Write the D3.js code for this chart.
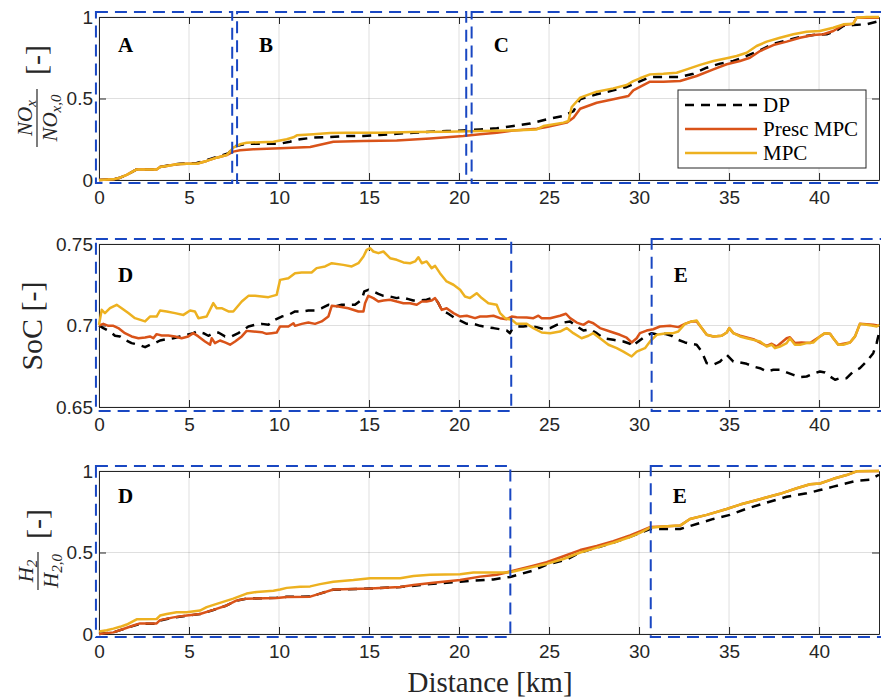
<!DOCTYPE html>
<html>
<head>
<meta charset="utf-8">
<script src="https://cdn.jsdelivr.net/npm/d3@7"></script>
<style>
  body { margin: 0; background: #fff; }
  svg { display: block; }
  .tick text { font-family: "Liberation Sans", Arial, sans-serif; font-size: 19px; fill: #262626; }
</style>
</head>
<body>
<script>
'use strict';

// distance [km] vs normalised NOx
const noxDP = [[0,0],[0.8,0.004],[1.17,0.014],[1.54,0.031],[2.09,0.065],[3.2,0.065],[3.39,0.08],[3.76,0.088],[4.5,0.1],[5.43,0.105],[6.0,0.122],[6.5,0.14],[7.2,0.165],[7.5,0.205],[8.2,0.223],[10.06,0.223],[10.61,0.235],[11.17,0.25],[11.91,0.26],[12.84,0.264],[13.76,0.27],[14.69,0.27],[15.61,0.276],[16.54,0.284],[17.47,0.29],[18.39,0.296],[19.32,0.3],[20.24,0.304],[21.17,0.31],[22.1,0.317],[23.02,0.331],[23.95,0.346],[24.87,0.372],[25.8,0.393],[26.36,0.423],[26.72,0.495],[27.65,0.526],[28.57,0.55],[29.31,0.571],[29.87,0.597],[30.61,0.632],[32.28,0.632],[33.02,0.652],[33.76,0.689],[34.5,0.714],[35.24,0.73],[35.98,0.761],[36.72,0.796],[37.46,0.836],[38.2,0.857],[38.94,0.877],[39.68,0.89],[40.42,0.894],[40.98,0.918],[41.35,0.945],[41.9,0.951],[42.65,0.955],[43.33,0.975]];
const noxPresc = [[0,0],[0.8,0.004],[1.17,0.014],[1.54,0.031],[2.09,0.065],[3.2,0.065],[3.39,0.08],[3.76,0.086],[4.31,0.096],[4.87,0.1],[5.43,0.1],[5.98,0.117],[6.54,0.137],[7.09,0.153],[7.46,0.174],[7.83,0.182],[8.57,0.188],[10.06,0.195],[11.73,0.203],[13.02,0.235],[14.69,0.239],[16.54,0.243],[18.39,0.255],[20.24,0.27],[21.17,0.28],[22.1,0.29],[23.02,0.304],[24.32,0.315],[24.87,0.325],[25.98,0.352],[26.36,0.382],[26.73,0.437],[27.65,0.474],[28.57,0.495],[29.41,0.515],[29.68,0.55],[30.05,0.571],[30.61,0.603],[31.35,0.603],[32.28,0.607],[33.2,0.638],[34.13,0.679],[34.87,0.71],[35.61,0.73],[36.16,0.75],[36.72,0.791],[37.46,0.828],[38.2,0.849],[38.94,0.873],[39.68,0.89],[40.24,0.894],[40.79,0.914],[41.35,0.951],[41.9,0.959],[42.09,0.996],[43.33,0.996]];
const noxMPC = [[0,0],[0.8,0.004],[1.17,0.014],[1.54,0.031],[2.09,0.065],[3.2,0.065],[3.39,0.08],[3.76,0.086],[4.31,0.096],[4.87,0.1],[5.43,0.1],[5.98,0.117],[6.54,0.137],[7.09,0.153],[7.46,0.198],[7.83,0.219],[8.2,0.229],[9.69,0.235],[10.43,0.25],[10.8,0.262],[10.99,0.274],[11.91,0.28],[12.84,0.288],[13.76,0.29],[15.61,0.29],[17.47,0.294],[19.32,0.296],[21.17,0.3],[23.02,0.304],[24.32,0.31],[24.69,0.331],[25.8,0.352],[26.08,0.362],[26.26,0.448],[26.73,0.505],[27.65,0.542],[28.57,0.562],[29.31,0.583],[29.68,0.607],[30.05,0.624],[30.61,0.648],[31.35,0.652],[32.09,0.658],[32.65,0.679],[33.39,0.706],[34.13,0.73],[34.87,0.747],[35.42,0.761],[35.98,0.781],[36.53,0.822],[37.09,0.849],[37.83,0.873],[38.57,0.894],[39.31,0.91],[40.05,0.914],[40.79,0.934],[41.35,0.955],[41.9,0.959],[42.09,0.996],[42.65,1.0],[43.33,1.0]];

// distance [km] vs state of charge
const socDP = [[0,0.7],[0.24,0.6984],[0.61,0.6963],[0.89,0.6937],[1.17,0.6933],[1.44,0.6912],[1.81,0.6892],[2.19,0.6882],[2.56,0.6867],[2.83,0.6882],[3.11,0.6892],[3.39,0.6908],[3.76,0.6916],[4.13,0.6922],[4.5,0.6933],[4.87,0.6943],[5.24,0.6953],[5.43,0.6963],[5.8,0.6953],[6.07,0.6937],[6.35,0.6953],[6.63,0.6957],[7.0,0.6933],[7.37,0.6933],[7.74,0.6953],[8.02,0.6973],[8.3,0.6994],[8.67,0.7004],[9.04,0.701],[9.41,0.7004],[9.78,0.7035],[10.15,0.7055],[10.52,0.7065],[10.89,0.7086],[11.26,0.7086],[11.63,0.7092],[12.0,0.7092],[12.37,0.7106],[12.74,0.7127],[13.11,0.7117],[13.48,0.7127],[14.22,0.7127],[14.59,0.7158],[14.74,0.7209],[14.96,0.7219],[15.24,0.7209],[15.52,0.7194],[15.8,0.7182],[16.17,0.7178],[16.54,0.7168],[16.81,0.7174],[17.19,0.7162],[17.46,0.7153],[17.83,0.7153],[18.2,0.7158],[18.48,0.7168],[18.67,0.7168],[18.85,0.7137],[19.04,0.7096],[19.41,0.7072],[19.78,0.7045],[20.15,0.7025],[20.43,0.701],[20.8,0.701],[21.17,0.6998],[21.54,0.699],[21.91,0.6984],[22.28,0.6977],[22.65,0.6969],[22.83,0.6953],[22.93,0.6973],[23.2,0.6994],[23.57,0.6994],[23.94,0.6998],[24.31,0.699],[24.69,0.6977],[25.06,0.6984],[25.43,0.7004],[25.8,0.7018],[26.17,0.7025],[26.54,0.6994],[26.91,0.6969],[27.28,0.6977],[27.65,0.6953],[28.02,0.6922],[28.57,0.6912],[29.13,0.6902],[29.5,0.6888],[29.59,0.6871],[29.96,0.6902],[30.33,0.6933],[30.7,0.6953],[31.07,0.6943],[31.44,0.6949],[31.81,0.6937],[32.18,0.6912],[32.55,0.6896],[32.83,0.6888],[33.2,0.6882],[33.48,0.684],[33.76,0.6769],[34.13,0.6759],[34.5,0.6779],[34.87,0.682],[35.24,0.6779],[35.61,0.6773],[35.98,0.6765],[36.35,0.6748],[36.72,0.6738],[37.09,0.6718],[37.46,0.6728],[37.83,0.6728],[38.2,0.6712],[38.57,0.6697],[38.94,0.6683],[39.31,0.6687],[39.68,0.6704],[40.05,0.6718],[40.33,0.6712],[40.61,0.6687],[40.89,0.6667],[41.16,0.6677],[41.53,0.6677],[41.9,0.6718],[42.27,0.6738],[42.64,0.6779],[43.01,0.683],[43.2,0.6892],[43.33,0.6953]];
const socPresc = [[0,0.7],[0.24,0.701],[0.52,0.6998],[0.8,0.6998],[1.07,0.6984],[1.44,0.6953],[1.81,0.6933],[2.19,0.6922],[2.56,0.6926],[2.83,0.6933],[3.02,0.6922],[3.2,0.6947],[3.48,0.6939],[3.85,0.6939],[4.22,0.6933],[4.59,0.6922],[4.96,0.6933],[5.24,0.6953],[5.52,0.6933],[5.89,0.6902],[6.17,0.6882],[6.26,0.6922],[6.44,0.6892],[6.72,0.6908],[7.0,0.6896],[7.28,0.6882],[7.56,0.6902],[7.93,0.6933],[8.2,0.6967],[8.57,0.6963],[9.04,0.6959],[9.31,0.6949],[9.59,0.6953],[9.87,0.6957],[10.06,0.6994],[10.52,0.6994],[10.8,0.7014],[10.89,0.6998],[11.26,0.701],[11.63,0.7018],[12.0,0.701],[12.37,0.7025],[12.74,0.7055],[12.93,0.7121],[13.3,0.7117],[13.85,0.7106],[14.41,0.7086],[14.69,0.7086],[14.78,0.7137],[14.96,0.7182],[15.24,0.7168],[15.52,0.7147],[15.8,0.7153],[16.17,0.7158],[16.54,0.7147],[16.91,0.7137],[17.28,0.7137],[17.65,0.7127],[17.93,0.7147],[18.2,0.7147],[18.48,0.7153],[18.67,0.7168],[18.85,0.7137],[19.04,0.7096],[19.31,0.7106],[19.69,0.7076],[20.06,0.7055],[20.43,0.706],[20.89,0.7045],[21.17,0.7055],[21.54,0.7055],[21.91,0.706],[22.28,0.7045],[22.65,0.7039],[22.93,0.7055],[23.2,0.7051],[23.76,0.7049],[24.13,0.7045],[24.41,0.706],[24.59,0.7045],[25.06,0.7045],[25.61,0.706],[25.94,0.7072],[26.17,0.7045],[26.54,0.7018],[26.91,0.7004],[27.19,0.7025],[27.46,0.7014],[27.83,0.6984],[28.39,0.6963],[28.94,0.6943],[29.31,0.6925],[29.59,0.6896],[29.87,0.6922],[30.05,0.6953],[30.42,0.6969],[30.79,0.6977],[31.16,0.6994],[31.72,0.6998],[32.18,0.699],[32.55,0.701],[32.92,0.7025],[33.2,0.7025],[33.48,0.6984],[33.76,0.6943],[34.13,0.6933],[34.59,0.6937],[34.87,0.6957],[35.01,0.6984],[35.24,0.6953],[35.61,0.6937],[36.35,0.6916],[37.09,0.6875],[37.37,0.6888],[37.65,0.6871],[38.2,0.6922],[38.38,0.6928],[38.66,0.6892],[39.03,0.6896],[39.5,0.6892],[40.05,0.6933],[40.33,0.6953],[40.61,0.6949],[40.79,0.6922],[41.07,0.6882],[41.35,0.6888],[41.72,0.6896],[42.0,0.6933],[42.27,0.701],[43.01,0.7004],[43.33,0.6998]];
const socMPC = [[0,0.7004],[0.15,0.7096],[0.33,0.7076],[0.61,0.7106],[0.98,0.7127],[1.26,0.7106],[1.63,0.7076],[2.0,0.7045],[2.56,0.7025],[2.83,0.7055],[3.2,0.7055],[3.39,0.7092],[3.76,0.7086],[4.22,0.7076],[4.69,0.7065],[5.06,0.7092],[5.33,0.7086],[5.52,0.7045],[5.98,0.7055],[6.35,0.7137],[6.54,0.7106],[6.81,0.7106],[7.19,0.7086],[7.46,0.7086],[7.93,0.7147],[8.3,0.7182],[8.67,0.7182],[9.41,0.7174],[9.87,0.7188],[10.06,0.728],[10.52,0.729],[10.89,0.7321],[11.26,0.7325],[11.81,0.7325],[12.09,0.7352],[12.56,0.7362],[12.93,0.7382],[13.57,0.7372],[14.04,0.7362],[14.41,0.7382],[14.69,0.7423],[14.87,0.7464],[15.06,0.7474],[15.24,0.7454],[15.52,0.7444],[15.8,0.7454],[16.17,0.7413],[16.54,0.7403],[16.91,0.7387],[17.28,0.7382],[17.56,0.7393],[17.74,0.7419],[17.93,0.7382],[18.2,0.7393],[18.48,0.7352],[18.67,0.7366],[18.94,0.7321],[19.31,0.727],[19.69,0.725],[20.06,0.7219],[20.33,0.7178],[20.61,0.7168],[20.98,0.7198],[21.26,0.7168],[21.63,0.7137],[22.09,0.7127],[22.28,0.7076],[22.56,0.7045],[22.93,0.7035],[23.2,0.701],[23.76,0.701],[24.13,0.6984],[24.59,0.6957],[25.06,0.6953],[25.61,0.6963],[25.98,0.6984],[26.35,0.6953],[26.81,0.6922],[27.19,0.6937],[27.46,0.6953],[27.83,0.6922],[28.3,0.6882],[28.76,0.6861],[29.13,0.684],[29.59,0.681],[29.87,0.684],[30.33,0.6861],[30.61,0.6902],[30.98,0.6943],[31.53,0.6953],[31.9,0.6953],[32.18,0.6963],[32.55,0.701],[32.92,0.7025],[33.2,0.7031],[33.48,0.6984],[33.76,0.6943],[34.13,0.6933],[34.59,0.6937],[34.87,0.6957],[35.01,0.6984],[35.24,0.6953],[35.61,0.6933],[35.98,0.6922],[36.35,0.6912],[36.72,0.6902],[37.09,0.6871],[37.37,0.6882],[37.55,0.6861],[37.83,0.6871],[38.2,0.6892],[38.38,0.6922],[38.66,0.6882],[38.94,0.6882],[39.31,0.6892],[39.68,0.6896],[40.05,0.6933],[40.33,0.6953],[40.61,0.6949],[40.79,0.6922],[41.07,0.6882],[41.35,0.6882],[41.72,0.6896],[42.0,0.6933],[42.18,0.6984],[42.27,0.701],[42.64,0.7004],[43.01,0.6998],[43.2,0.6994],[43.33,0.7004]];

// distance [km] vs normalised H2
const h2DP = [[0,0],[0.8,0.01],[1.35,0.03],[1.91,0.05],[2.28,0.063],[3.2,0.063],[3.39,0.083],[4.13,0.1],[4.87,0.112],[5.61,0.122],[6.35,0.147],[7.09,0.175],[7.65,0.205],[8.2,0.217],[9.87,0.222],[10.43,0.228],[11.73,0.23],[12.28,0.248],[13.02,0.272],[15.06,0.279],[16.73,0.288],[18.39,0.306],[20.06,0.321],[21.91,0.335],[22.84,0.35],[24.13,0.39],[24.87,0.425],[25.98,0.456],[26.73,0.5],[28.57,0.56],[30.05,0.619],[30.61,0.644],[32.28,0.644],[33.2,0.675],[34.13,0.706],[35.05,0.731],[35.98,0.769],[37.09,0.806],[38.2,0.842],[39.31,0.863],[40.05,0.883],[40.79,0.904],[41.53,0.925],[42.09,0.94],[42.83,0.946],[43.33,0.977]];
const h2Presc = [[0,0],[0.8,0.01],[1.35,0.031],[1.91,0.052],[2.28,0.065],[3.2,0.065],[3.39,0.085],[4.13,0.102],[4.87,0.113],[5.61,0.123],[6.35,0.148],[7.09,0.175],[7.65,0.206],[8.2,0.217],[9.87,0.221],[10.43,0.227],[11.73,0.229],[12.28,0.248],[13.02,0.273],[15.06,0.279],[16.73,0.289],[17.47,0.3],[18.58,0.315],[20.06,0.331],[21.17,0.352],[22.1,0.363],[22.84,0.383],[24.13,0.419],[24.87,0.44],[25.8,0.477],[26.73,0.515],[27.65,0.54],[28.57,0.57],[29.5,0.605],[30.05,0.63],[30.61,0.656],[31.35,0.66],[32.28,0.665],[32.83,0.706],[33.76,0.731],[34.87,0.767],[35.61,0.794],[36.72,0.827],[37.83,0.86],[38.76,0.894],[39.5,0.919],[40.05,0.923],[40.79,0.952],[41.53,0.975],[42.09,0.998],[43.33,1.0]];
const h2MPC = [[0,0.015],[0.43,0.023],[0.8,0.033],[1.17,0.044],[1.54,0.058],[2.09,0.09],[3.2,0.092],[3.39,0.113],[3.76,0.123],[4.31,0.133],[4.87,0.133],[5.61,0.144],[5.98,0.165],[6.54,0.185],[7.46,0.217],[8.2,0.248],[8.76,0.258],[9.69,0.265],[10.06,0.273],[10.43,0.283],[11.17,0.29],[11.73,0.292],[12.28,0.306],[13.02,0.321],[14.13,0.331],[15.06,0.342],[16.73,0.342],[17.47,0.356],[18.39,0.363],[20.06,0.367],[20.8,0.377],[22.65,0.377],[23.02,0.383],[24.13,0.412],[24.87,0.43],[25.8,0.46],[26.73,0.5],[27.65,0.53],[28.57,0.56],[29.5,0.595],[30.05,0.62],[30.61,0.652],[31.35,0.66],[32.28,0.665],[32.83,0.706],[33.76,0.731],[34.87,0.767],[35.61,0.794],[36.72,0.827],[37.83,0.86],[38.76,0.894],[39.5,0.919],[40.05,0.923],[40.79,0.952],[41.53,0.975],[42.09,0.998],[43.33,1.0]];

const xTicks = [0, 5, 10, 15, 20, 25, 30, 35, 40];
const unitTicks = [0, 0.5, 1];
const socTicks = [0.65, 0.7, 0.75];
const seriesNames = ['DP', 'Presc MPC', 'MPC'];

// highlighted regions: [label, xFrom, xTo] in km
const noxRegions = [['A', -0.17, 7.4], ['B', 7.67, 20.4], ['C', 20.7, 43.6]];
const socRegions = [['D', -0.17, 22.9], ['E', 30.7, 43.6]];
const h2Regions = [['D', -0.17, 22.85], ['E', 30.65, 43.6]];

(function() {
  const W = 881, H = 698;
  const left = 99, right = 879;
  const colors = { 'DP': '#000000', 'Presc MPC': '#D95319', 'MPC': '#EDB120' };
  const axisCol = '#262626';
  const boxBlue = '#1947c2';

  const svg = d3.select('body').append('svg')
    .attr('width', W).attr('height', H);

  const x = d3.scaleLinear().domain([0, 43.33]).range([left, right]);

  function drawPanel(p) {
    const y = p.y;
    const [yb, yt] = y.range();
    const g = svg.append('g');

    // grid
    g.selectAll('.gx').data(xTicks).enter().append('line')
      .attr('x1', d => x(d)).attr('x2', d => x(d))
      .attr('y1', yb).attr('y2', yt)
      .attr('stroke', axisCol).attr('stroke-opacity', 0.15);
    g.selectAll('.gy').data(p.ticks).enter().append('line')
      .attr('x1', left).attr('x2', right)
      .attr('y1', d => y(d)).attr('y2', d => y(d))
      .attr('stroke', axisCol).attr('stroke-opacity', 0.15);

    // axes, ticks inside like matlab
    const fmt = d => String(d);
    g.append('g').attr('transform', `translate(0,${yb})`)
      .call(d3.axisBottom(x).tickValues(xTicks).tickFormat(fmt).tickSizeInner(-7).tickSizeOuter(0).tickPadding(11));
    g.append('g').attr('transform', `translate(0,${yt})`)
      .call(d3.axisTop(x).tickValues(xTicks).tickFormat('').tickSizeInner(-7).tickSizeOuter(0));
    g.append('g').attr('transform', `translate(${left},0)`)
      .call(d3.axisLeft(y).tickValues(p.ticks).tickFormat(fmt).tickSizeInner(-7).tickSizeOuter(0).tickPadding(6));
    g.append('g').attr('transform', `translate(${right},0)`)
      .call(d3.axisRight(y).tickValues(p.ticks).tickFormat('').tickSizeInner(-7).tickSizeOuter(0));
    g.selectAll('.domain, .tick line').attr('stroke', axisCol);
    g.selectAll('.tick text').attr('font-family', null).attr('font-size', null);

    // data lines
    const line = d3.line().x(d => x(d[0])).y(d => y(d[1]));
    p.series.forEach((s, i) => {
      g.append('path')
        .datum(s.data)
        .attr('d', line)
        .attr('fill', 'none')
        .attr('stroke', colors[s.name])
        .attr('stroke-width', 2.5)
        .attr('stroke-linejoin', 'round')
        .attr('stroke-dasharray', s.name === 'DP' ? '9,7' : null);
    });

    // dashed region boxes + bold letters
    p.regions.forEach(r => {
      const x0 = x(r[1]), x1 = x(r[2]);
      const y0 = y(p.boxY[1]), y1 = y(p.boxY[0]);
      g.append('rect')
        .attr('x', x0).attr('y', y0)
        .attr('width', x1 - x0).attr('height', y1 - y0)
        .attr('fill', 'none')
        .attr('stroke', boxBlue)
        .attr('stroke-width', 2)
        .attr('stroke-dasharray', '12,7');
      g.append('text')
        .attr('x', x0 + 22).attr('y', y0 + p.letterDy)
        .attr('font-family', '"Liberation Serif", "Times New Roman", serif')
        .attr('font-weight', 'bold')
        .attr('font-size', 21)
        .attr('fill', '#000')
        .text(r[0]);
    });
    return g;
  }

  const yNox = d3.scaleLinear().domain([0, 1]).range([180, 17]);
  const ySoc = d3.scaleLinear().domain([0.65, 0.75]).range([407, 244]);
  const yH2 = d3.scaleLinear().domain([0, 1]).range([634, 471]);

  const topPanel = drawPanel({
    y: yNox, ticks: unitTicks,
    series: [{ name: 'DP', data: noxDP }, { name: 'Presc MPC', data: noxPresc }, { name: 'MPC', data: noxMPC }],
    regions: noxRegions, boxY: [-0.018, 1.031], letterDy: 40
  });
  drawPanel({
    y: ySoc, ticks: socTicks,
    series: [{ name: 'DP', data: socDP }, { name: 'Presc MPC', data: socPresc }, { name: 'MPC', data: socMPC }],
    regions: socRegions, boxY: [0.6475, 0.7531], letterDy: 43
  });
  drawPanel({
    y: yH2, ticks: unitTicks,
    series: [{ name: 'DP', data: h2DP }, { name: 'Presc MPC', data: h2Presc }, { name: 'MPC', data: h2MPC }],
    regions: h2Regions, boxY: [-0.018, 1.031], letterDy: 37
  });

  // legend
  const leg = topPanel.append('g').attr('transform', 'translate(678,90)');
  leg.append('rect').attr('width', 188).attr('height', 78)
    .attr('fill', '#fff').attr('stroke', axisCol).attr('stroke-width', 1);
  seriesNames.forEach((name, i) => {
    const ly = 15 + i * 24;
    leg.append('line')
      .attr('x1', 7).attr('x2', 79).attr('y1', ly).attr('y2', ly)
      .attr('stroke', colors[name]).attr('stroke-width', 2.5)
      .attr('stroke-dasharray', name === 'DP' ? '9,7' : null);
    leg.append('text')
      .attr('x', 85).attr('y', ly + 7)
      .attr('font-family', '"Liberation Serif", "Times New Roman", serif')
      .attr('font-size', 21).attr('fill', '#000')
      .text(name);
  });

  // y labels
  const serif = '"Liberation Serif", "Times New Roman", serif';

  function fracLabel(cx, cy, halfLen, num, numSub, den, denSub, bracketAt) {
    const g = svg.append('g').attr('transform', `translate(${cx},${cy}) rotate(-90)`)
      .attr('font-family', serif).attr('fill', axisCol);
    g.append('line').attr('x1', -halfLen).attr('x2', halfLen)
      .attr('y1', 0).attr('y2', 0).attr('stroke', axisCol).attr('stroke-width', 1.2);
    const t1 = g.append('text').attr('text-anchor', 'middle').attr('y', -5).attr('font-size', 21);
    t1.append('tspan').attr('font-style', 'italic').text(num);
    t1.append('tspan').attr('font-size', 15).attr('dy', 4).attr('font-style', 'italic').text(numSub);
    const t2 = g.append('text').attr('text-anchor', 'middle').attr('y', 20).attr('font-size', 21);
    t2.append('tspan').attr('font-style', 'italic').text(den);
    t2.append('tspan').attr('font-size', 15).attr('dy', 4).attr('font-style', 'italic').text(denSub);
    g.append('text').attr('x', bracketAt).attr('y', 9)
      .attr('text-anchor', 'middle').attr('font-size', 30).text('[-]');
  }

  fracLabel(37, 118, 29, 'NO', 'x', 'NO', 'x,0', 58);
  fracLabel(38, 571, 19, 'H', '2', 'H', '2,0', 47);

  svg.append('text')
    .attr('transform', 'translate(42,326) rotate(-90)')
    .attr('text-anchor', 'middle')
    .attr('font-family', serif).attr('font-size', 30).attr('fill', axisCol)
    .text('SoC [-]');

  svg.append('text')
    .attr('x', 490).attr('y', 692)
    .attr('text-anchor', 'middle')
    .attr('font-family', serif).attr('font-size', 29).attr('fill', axisCol)
    .text('Distance [km]');
})();
</script>
</body>
</html>
